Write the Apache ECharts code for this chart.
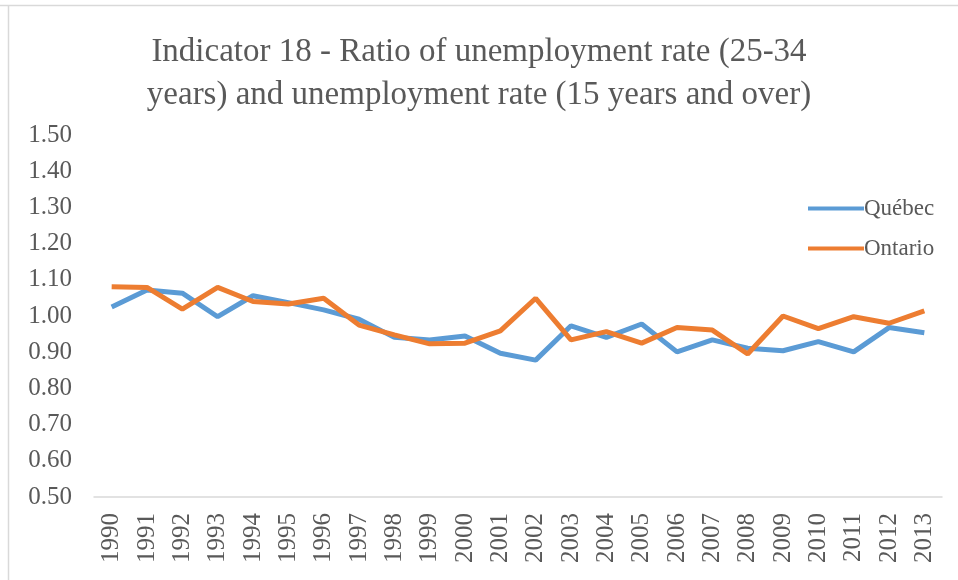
<!DOCTYPE html>
<html>
<head>
<meta charset="utf-8">
<script src="https://cdn.jsdelivr.net/npm/echarts@6/dist/echarts.min.js"></script>
<style>
html,body{margin:0;padding:0;background:#fff;}
#chart{width:958px;height:580px;}
</style>
</head>
<body>
<div id="chart"></div>
<script>
const years = ['1990','1991','1992','1993','1994','1995','1996','1997','1998','1999','2000','2001','2002','2003','2004','2005','2006','2007','2008','2009','2010','2011','2012','2013'];
const quebec = [1.025,1.072,1.063,0.998,1.056,1.037,1.017,0.991,0.941,0.934,0.945,0.897,0.878,0.973,0.941,0.978,0.901,0.934,0.911,0.904,0.929,0.901,0.968,0.954];
const ontario = [1.081,1.079,1.019,1.079,1.040,1.033,1.049,0.975,0.948,0.923,0.925,0.959,1.049,0.934,0.957,0.925,0.968,0.961,0.895,1.000,0.965,0.998,0.980,1.014];
const titleText = 'Indicator 18 - Ratio of unemployment rate (25-34\nyears) and unemployment rate (15 years and over)';

const chart = echarts.init(document.getElementById('chart'));
const font = '"Liberation Serif", "DejaVu Serif", serif';
chart.setOption({
  animation: false,
  backgroundColor: '#fff',
  title: {
    text: titleText,
    left: 'center',
    top: 26,
    textStyle: {fontFamily: font, fontSize: 33, fontWeight: 'normal', color: '#595959', lineHeight: 43}
  },
  graphic: [
    {type: 'line', shape: {x1: 0, y1: 5.5, x2: 958, y2: 5.5}, style: {stroke: '#d9d9d9', lineWidth: 1.5}},
    {type: 'line', shape: {x1: 8.5, y1: 5, x2: 8.5, y2: 580}, style: {stroke: '#d9d9d9', lineWidth: 1.5}}
  ],
  legend: {
    orient: 'vertical',
    left: 803,
    top: 192,
    itemGap: 17,
    itemWidth: 56,
    itemHeight: 4,
    icon: 'rect',
    textStyle: {fontFamily: font, fontSize: 23, color: '#595959', padding: [0,0,0,-5]},
    data: ['Québec', 'Ontario']
  },
  grid: {left: 94, right: 16, top: 135, bottom: 83, containLabel: false},
  xAxis: {
    type: 'category',
    data: years,
    boundaryGap: true,
    axisLine: {lineStyle: {color: '#d9d9d9', width: 1.5}},
    axisTick: {show: false},
    axisLabel: {rotate: 90, fontFamily: font, fontSize: 25, color: '#595959', margin: 16, interval: 0}
  },
  yAxis: {
    type: 'value',
    min: 0.5,
    max: 1.5,
    interval: 0.1,
    splitLine: {show: false},
    axisLine: {show: false},
    axisTick: {show: false},
    axisLabel: {fontFamily: font, fontSize: 25, color: '#595959', margin: 22, formatter: v => v.toFixed(2)}
  },
  series: [
    {name: 'Québec', type: 'line', data: quebec, showSymbol: false, symbol: 'none',
     lineStyle: {color: '#5B9BD5', width: 5}, itemStyle: {color: '#5B9BD5'}},
    {name: 'Ontario', type: 'line', data: ontario, showSymbol: false, symbol: 'none',
     lineStyle: {color: '#ED7D31', width: 5}, itemStyle: {color: '#ED7D31'}}
  ]
});
</script>
</body>
</html>
